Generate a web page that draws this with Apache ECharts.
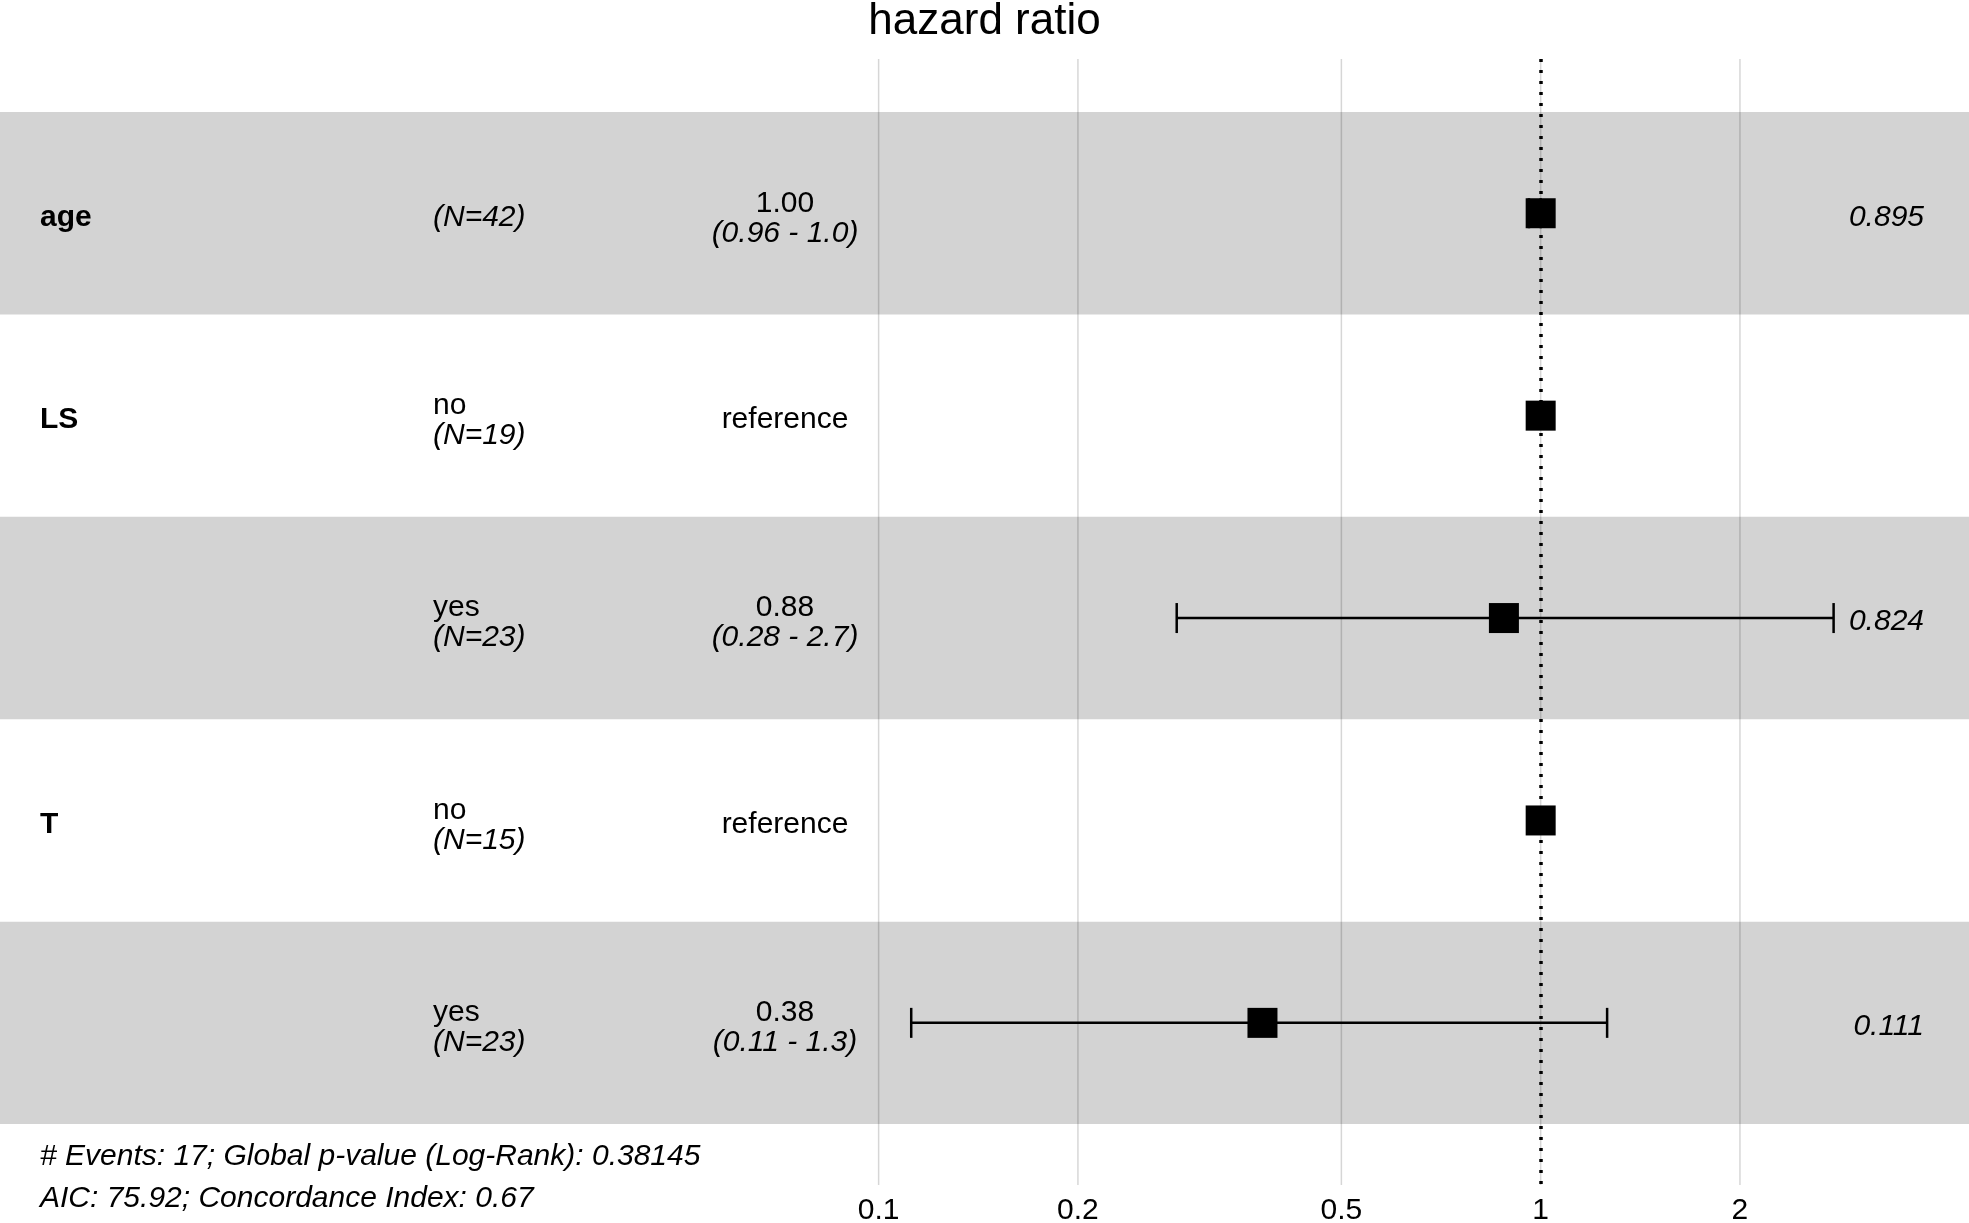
<!DOCTYPE html>
<html>
<head>
<meta charset="UTF-8">
<title>hazard ratio</title>
<script src="https://cdn.jsdelivr.net/npm/echarts@6/dist/echarts.min.js"></script>
<style>
  html, body { margin: 0; padding: 0; background: #fff; }
  #main { width: 1969px; height: 1223px; }
</style>
</head>
<body>
<div id="main"></div>
<script>
// table columns, one entry per row (top to bottom)
var variables = ['age', 'LS', '', 'T', ''];
var levels    = ['', 'no', 'yes', 'no', 'yes'];
var nCounts   = [42, 19, 23, 15, 23];
var hrValues  = [1.00, 1, 0.88, 1, 0.38];
var ciLow     = [0.96, null, 0.282, null, 0.112];
var ciHigh    = [1.00, null, 2.77, null, 1.26];
var hrLabels  = ['1.00', 'reference', '0.88', 'reference', '0.38'];
var ciLabels  = ['(0.96 - 1.0)', '', '(0.28 - 2.7)', '', '(0.11 - 1.3)'];
var pLabels   = ['0.895', '', '0.824', '', '0.111'];
var tickValues = [0.1, 0.2, 0.5, 1, 2];
var footerLines = [
  '# Events: 17; Global p-value (Log-Rank): 0.38145',
  'AIC: 75.92; Concordance Index: 0.67'
];

var FONT = '"Liberation Sans", Arial, sans-serif';
var chart = echarts.init(document.getElementById('main'));

var rows = variables.map(function (v, i) { return [1, i]; });
var ciData = [];
var boxData = [];
hrValues.forEach(function (v, i) {
  boxData.push([v, i]);
  if (ciLow[i] != null) ciData.push([ciLow[i], ciHigh[i], i]);
});

function txt(text, x, y, opts) {
  return {
    type: 'text',
    style: {
      text: text,
      x: x,
      y: y,
      fill: '#000',
      font: (opts.style || '') + ' ' + (opts.weight || 'normal') + ' 30px ' + FONT,
      align: opts.align || 'left',
      verticalAlign: 'middle'
    }
  };
}

var option = {
  animation: false,
  title: {
    text: 'hazard ratio',
    left: 'center',
    top: 0,
    padding: 0,
    textStyle: { fontFamily: FONT, fontSize: 44, fontWeight: 'normal', color: '#000', lineHeight: 44 }
  },
  grid: { left: 0, right: 0, top: 59, bottom: 38 },
  xAxis: {
    type: 'log',
    logBase: 10,
    min: 0.004708,
    max: 4.436,
    show: false
  },
  yAxis: {
    type: 'value',
    min: -0.762,
    max: 4.801,
    inverse: true,
    show: false
  },
  graphic: footerLines.map(function (t, i) {
    return {
      type: 'text',
      left: 40,
      top: 1142 + i * 42,
      style: { text: t, fill: '#000', font: 'italic 30px ' + FONT }
    };
  }),
  series: [
    // grey bands
    {
      type: 'scatter',
      z: 0,
      data: [],
      markArea: {
        silent: true,
        itemStyle: { color: '#d3d3d3' },
        data: [
          [{ yAxis: -0.5 }, { yAxis: 0.5 }],
          [{ yAxis: 1.5 }, { yAxis: 2.5 }],
          [{ yAxis: 3.5 }, { yAxis: 4.5 }]
        ]
      }
    },
    // vertical grid lines and their labels
    {
      type: 'custom',
      z: 1,
      silent: true,
      clip: false,
      data: tickValues.map(function (v) { return [v, 0]; }),
      encode: { x: 0, y: 1 },
      renderItem: function (params, api) {
        var cs = params.coordSys;
        var x = api.coord([api.value(0), 0])[0];
        return {
          type: 'group',
          children: [
            {
              type: 'line',
              shape: { x1: x, y1: cs.y, x2: x, y2: cs.y + cs.height },
              style: { stroke: 'rgba(0,0,0,0.16)', lineWidth: 1.5 }
            },
            {
              type: 'text',
              style: {
                text: String(api.value(0)),
                x: x, y: cs.y + cs.height + 26,
                fill: '#000', font: '30px ' + FONT,
                align: 'center', verticalAlign: 'middle'
              }
            }
          ]
        };
      }
    },
    // confidence intervals
    {
      type: 'custom',
      z: 3,
      silent: true,
      data: ciData,
      encode: { x: [0, 1], y: 2 },
      renderItem: function (params, api) {
        var p1 = api.coord([api.value(0), api.value(2)]);
        var p2 = api.coord([api.value(1), api.value(2)]);
        var h = 15;
        var st = { stroke: '#000', lineWidth: 2.5 };
        return {
          type: 'group',
          children: [
            { type: 'line', shape: { x1: p1[0], y1: p1[1], x2: p2[0], y2: p2[1] }, style: st },
            { type: 'line', shape: { x1: p1[0], y1: p1[1] - h, x2: p1[0], y2: p1[1] + h }, style: st },
            { type: 'line', shape: { x1: p2[0], y1: p2[1] - h, x2: p2[0], y2: p2[1] + h }, style: st }
          ]
        };
      }
    },
    // point estimates and reference line
    {
      type: 'scatter',
      z: 4,
      symbol: 'rect',
      symbolSize: 30,
      itemStyle: { color: '#000', opacity: 1 },
      data: boxData,
      markLine: {
        silent: true,
        symbol: 'none',
        label: { show: false },
        lineStyle: { color: '#000', width: 3.5, type: [3, 8], opacity: 1 },
        data: [{ xAxis: 1 }]
      }
    },
    // table text
    {
      type: 'custom',
      z: 5,
      silent: true,
      clip: false,
      data: rows,
      encode: { x: 0, y: 1 },
      renderItem: function (params, api) {
        var i = params.dataIndex;
        var y = api.coord([1, api.value(1)])[1] + 4;
        var kids = [];
        if (variables[i]) kids.push(txt(variables[i], 40, y, { weight: 'bold' }));
        if (levels[i]) {
          kids.push(txt(levels[i], 433, y - 14, {}));
          kids.push(txt('(N=' + nCounts[i] + ')', 433, y + 16, { style: 'italic' }));
        } else {
          kids.push(txt('(N=' + nCounts[i] + ')', 433, y, { style: 'italic' }));
        }
        if (ciLabels[i]) {
          kids.push(txt(hrLabels[i], 785, y - 14, { align: 'center' }));
          kids.push(txt(ciLabels[i], 785, y + 16, { align: 'center', style: 'italic' }));
        } else {
          kids.push(txt(hrLabels[i], 785, y, { align: 'center' }));
        }
        if (pLabels[i]) kids.push(txt(pLabels[i], 1924, y, { align: 'right', style: 'italic' }));
        return { type: 'group', children: kids };
      }
    }
  ]
};

chart.setOption(option);
</script>
</body>
</html>
